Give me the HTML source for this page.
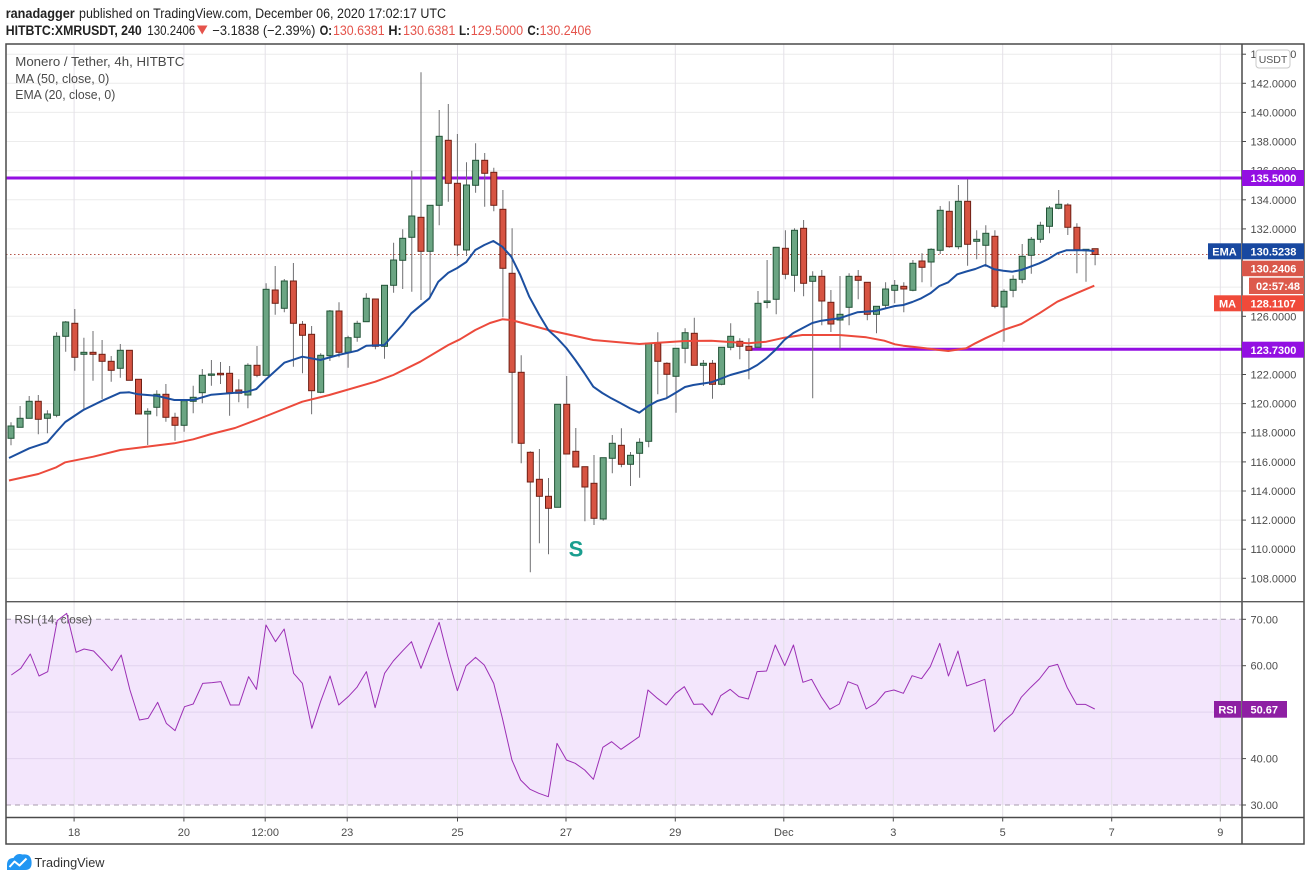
<!DOCTYPE html>
<html><head><meta charset="utf-8"><style>
html,body{margin:0;padding:0;background:#fff;width:1311px;height:881px;overflow:hidden}
svg{display:block}
text{font-family:"Liberation Sans",sans-serif}
</style></head><body>
<svg width="1311" height="881" viewBox="0 0 1311 881" xmlns="http://www.w3.org/2000/svg">
<rect width="1311" height="881" fill="#fff"/>
<!-- header -->
<text x="5.7" y="18" font-size="13.5" font-weight="bold" fill="#222" textLength="69" lengthAdjust="spacingAndGlyphs">ranadagger</text>
<text x="79" y="18" font-size="13.5" fill="#222" textLength="367" lengthAdjust="spacingAndGlyphs">published on TradingView.com, December 06, 2020 17:02:17 UTC</text>
<text x="5.7" y="35" font-size="13.5" font-weight="bold" fill="#222" textLength="136" lengthAdjust="spacingAndGlyphs">HITBTC:XMRUSDT, 240</text>
<text x="147.3" y="35" font-size="13.5" fill="#222" textLength="48" lengthAdjust="spacingAndGlyphs">130.2406</text>
<polygon points="197,25.5 207.5,25.5 202.2,34.5" fill="#e5534b"/>
<text x="212.4" y="35" font-size="13.5" fill="#222" textLength="103" lengthAdjust="spacingAndGlyphs">−3.1838 (−2.39%)</text>
<text x="319.6" y="35" font-size="13.5" font-weight="bold" fill="#222" textLength="12.4" lengthAdjust="spacingAndGlyphs">O:</text>
<text x="333" y="35" font-size="13.5" fill="#e5534b" textLength="51.6" lengthAdjust="spacingAndGlyphs">130.6381</text>
<text x="388.4" y="35" font-size="13.5" font-weight="bold" fill="#222" textLength="13.4" lengthAdjust="spacingAndGlyphs">H:</text>
<text x="403" y="35" font-size="13.5" fill="#e5534b" textLength="52.4" lengthAdjust="spacingAndGlyphs">130.6381</text>
<text x="459" y="35" font-size="13.5" font-weight="bold" fill="#222" textLength="11" lengthAdjust="spacingAndGlyphs">L:</text>
<text x="470.7" y="35" font-size="13.5" fill="#e5534b" textLength="52.5" lengthAdjust="spacingAndGlyphs">129.5000</text>
<text x="527.4" y="35" font-size="13.5" font-weight="bold" fill="#222" textLength="12.2" lengthAdjust="spacingAndGlyphs">C:</text>
<text x="539.6" y="35" font-size="13.5" fill="#e5534b" textLength="51.7" lengthAdjust="spacingAndGlyphs">130.2406</text>

<!-- RSI band -->
<rect x="6" y="619.3" width="1236" height="185.7" fill="#f3e6fc"/>
<g stroke="#e2d3ee" stroke-width="1">
<line x1="6" y1="665.7" x2="1242" y2="665.7"/>
<line x1="6" y1="712.1" x2="1242" y2="712.1"/>
<line x1="6" y1="758.6" x2="1242" y2="758.6"/>
</g>
<!-- main grid horizontal -->
<g stroke="#ececec" stroke-width="1">
<line x1="6" y1="54.2" x2="1242" y2="54.2"/><line x1="6" y1="83.3" x2="1242" y2="83.3"/><line x1="6" y1="112.4" x2="1242" y2="112.4"/><line x1="6" y1="141.5" x2="1242" y2="141.5"/><line x1="6" y1="170.7" x2="1242" y2="170.7"/><line x1="6" y1="199.8" x2="1242" y2="199.8"/><line x1="6" y1="228.9" x2="1242" y2="228.9"/><line x1="6" y1="258" x2="1242" y2="258"/><line x1="6" y1="287.1" x2="1242" y2="287.1"/><line x1="6" y1="316.3" x2="1242" y2="316.3"/><line x1="6" y1="345.4" x2="1242" y2="345.4"/><line x1="6" y1="374.5" x2="1242" y2="374.5"/><line x1="6" y1="403.6" x2="1242" y2="403.6"/><line x1="6" y1="432.7" x2="1242" y2="432.7"/><line x1="6" y1="461.9" x2="1242" y2="461.9"/><line x1="6" y1="491" x2="1242" y2="491"/><line x1="6" y1="520.1" x2="1242" y2="520.1"/><line x1="6" y1="549.2" x2="1242" y2="549.2"/><line x1="6" y1="578.3" x2="1242" y2="578.3"/>
</g>
<!-- vertical grid -->
<g stroke="#e4e1e8" stroke-width="1">
<line x1="74.1" y1="44" x2="74.1" y2="817"/><line x1="183.9" y1="44" x2="183.9" y2="817"/><line x1="265.2" y1="44" x2="265.2" y2="817"/><line x1="347.2" y1="44" x2="347.2" y2="817"/><line x1="457.5" y1="44" x2="457.5" y2="817"/><line x1="566" y1="44" x2="566" y2="817"/><line x1="675.3" y1="44" x2="675.3" y2="817"/><line x1="783.8" y1="44" x2="783.8" y2="817"/><line x1="893.3" y1="44" x2="893.3" y2="817"/><line x1="1002.7" y1="44" x2="1002.7" y2="817"/><line x1="1111.7" y1="44" x2="1111.7" y2="817"/><line x1="1220.3" y1="44" x2="1220.3" y2="817"/>
</g>
<!-- RSI dashed bounds -->
<g stroke="#a89cae" stroke-width="1" stroke-dasharray="5 4">
<line x1="6" y1="619.3" x2="1242" y2="619.3"/>
<line x1="6" y1="805" x2="1242" y2="805"/>
</g>

<!-- legends -->
<text x="15.3" y="66" font-size="13" fill="#4a4a4a" textLength="169" lengthAdjust="spacingAndGlyphs">Monero / Tether, 4h, HITBTC</text>
<text x="15.3" y="83" font-size="13" fill="#4a4a4a" textLength="94" lengthAdjust="spacingAndGlyphs">MA (50, close, 0)</text>
<text x="15.3" y="99" font-size="13" fill="#4a4a4a" textLength="100" lengthAdjust="spacingAndGlyphs">EMA (20, close, 0)</text>
<text x="14.5" y="623.5" font-size="12" fill="#555" textLength="77.5" lengthAdjust="spacingAndGlyphs">RSI (14, close)</text>

<!-- horizontal levels -->
<line x1="6" y1="178" x2="1242" y2="178" stroke="#930fe2" stroke-width="3"/>
<line x1="746" y1="349.3" x2="1242" y2="349.3" stroke="#930fe2" stroke-width="3"/>
<line x1="6" y1="254.5" x2="1242" y2="254.5" stroke="#b5564a" stroke-width="1" stroke-dasharray="1.5 2.5"/>

<!-- wicks -->
<path fill="none" stroke="#6f6f72" stroke-width="1" d="M11 422.3V445.3M20.1 406V427.3M29.2 396V418.3M38.3 395V434.3M47.4 410.3V433.3M56.6 332.3V417.3M65.7 321V351.7M74.8 309V370.7M83.9 337.7V409.3M93 331V380.7M102.1 340V399M111.2 356V381.7M120.3 344V377.7M129.4 350.3V380.3M138.5 379.3V414M147.7 408.3V445M156.8 390.3V416.3M165.9 384V421.7M175 412.7V440.7M184.1 400.7V431.7M193.2 385.7V413.3M202.3 369V403.3M211.4 360V385.7M220.5 362V384M229.6 366V415.7M238.8 379.3V402.3M247.9 363.3V408.3M257 346V377.3M266.1 283.3V375.3M275.2 266V314.7M284.3 279V312.3M293.4 263V366.7M302.5 321V373.3M311.6 326V414.3M320.7 353.3V393.3M329.9 310V361M339 302.3V357.3M348.1 335.7V367.7M357.2 320.7V341.7M366.3 293.3V321.7M375.4 299V349.3M384.5 285.3V358.7M393.6 242.7V292.7M402.7 229.3V289M411.8 170.7V291.7M421 72.3V300M430.1 205.3V297.3M439.2 110V225.3M448.3 104V201.7M457.4 134V256M466.5 162.3V256M475.6 143.3V192.7M484.7 153V206.7M493.8 167.7V211.3M502.9 190V317.3M512.1 228.3V443.3M521.2 355.3V463.3M530.3 451.3V572.3M539.4 449V543.3M548.5 478V554.3M557.6 404.3V507.3M566.7 376V454M575.8 428V467M584.9 466.7V521.3M594 455V525M603.2 457.7V520.7M612.3 435V473.3M621.4 428.3V467.3M630.5 452V486M639.6 438.3V477.7M648.7 343.3V447.3M657.8 332.3V394.3M666.9 362.3V398.3M676 348.3V412.7M685.1 328.3V363.3M694.3 317.7V365.3M703.4 360V386M712.5 360V398.7M721.6 347.3V385.3M730.7 323.3V350.3M739.8 338.3V359.3M748.9 338.3V379.3M758 291V347.3M767.1 260V308.3M776.2 247.3V314.3M785.4 230.3V279.3M794.5 228.3V291.7M803.6 220V296.3M812.7 271.3V398.3M821.8 270V325.3M830.9 290V332M840 276V349.3M849.1 273.3V325.3M858.2 270V299.3M867.3 282.3V320.3M876.5 306.3V333.3M885.6 282.3V309M894.7 280V303.3M903.8 282.3V312.3M912.9 260V291.3M922 253.3V282.3M931.1 248.3V286.7M940.2 206V254M949.3 201.3V247.7M958.4 185V249.3M967.6 179.3V265.7M976.7 230.3V259.3M985.8 225.3V266.7M994.9 230.3V308.3M1004 289.3V341.7M1013.1 275.3V297.3M1022.2 244V283.3M1031.3 237V273.7M1040.4 221.7V242.7M1049.5 206V233.3M1058.7 190V209.3M1067.8 203.3V235M1076.9 223.3V273.3M1086 249.3V281.7M1095.1 248.7V265.3"/>

<!-- green bodies -->
<g fill="#6ba583" stroke="#225437" stroke-width="1">
<rect x="8" y="426" width="6" height="12.3"/><rect x="17.1" y="418.3" width="6" height="9"/><rect x="26.2" y="401.3" width="6" height="17"/><rect x="44.4" y="414" width="6" height="4.3"/><rect x="53.6" y="336.3" width="6" height="79"/><rect x="62.7" y="322" width="6" height="14.3"/><rect x="80.9" y="352.3" width="6" height="2"/><rect x="117.3" y="350.3" width="6" height="18"/><rect x="144.7" y="411.3" width="6" height="2.7"/><rect x="153.8" y="394.3" width="6" height="13"/><rect x="181.1" y="400.7" width="6" height="24.6"/><rect x="190.2" y="397.3" width="6" height="4"/><rect x="199.3" y="375.3" width="6" height="17.4"/><rect x="208.4" y="374" width="6" height="1.3"/><rect x="244.9" y="365.3" width="6" height="29.7"/><rect x="263.1" y="289.3" width="6" height="86"/><rect x="281.3" y="281" width="6" height="27.3"/><rect x="317.7" y="355.3" width="6" height="37"/><rect x="326.9" y="311" width="6" height="44.7"/><rect x="345.1" y="337.7" width="6" height="14.6"/><rect x="354.2" y="323.3" width="6" height="14"/><rect x="363.3" y="298.3" width="6" height="23.4"/><rect x="381.5" y="285.3" width="6" height="61"/><rect x="390.6" y="260" width="6" height="25.3"/><rect x="399.7" y="238.3" width="6" height="22"/><rect x="408.8" y="216" width="6" height="21.3"/><rect x="427.1" y="205.3" width="6" height="46"/><rect x="436.2" y="136.3" width="6" height="69"/><rect x="463.5" y="185" width="6" height="65"/><rect x="472.6" y="160.3" width="6" height="25"/><rect x="554.6" y="404.3" width="6" height="103"/><rect x="600.2" y="457.7" width="6" height="61.3"/><rect x="609.3" y="443.3" width="6" height="15"/><rect x="627.5" y="455.3" width="6" height="9"/><rect x="636.6" y="442.3" width="6" height="11"/><rect x="645.7" y="343.3" width="6" height="98"/><rect x="673" y="348.3" width="6" height="28"/><rect x="682.1" y="332.7" width="6" height="15.6"/><rect x="700.4" y="363.3" width="6" height="2"/><rect x="718.6" y="347.3" width="6" height="37"/><rect x="727.7" y="336.3" width="6" height="11"/><rect x="755" y="303.3" width="6" height="44"/><rect x="764.1" y="301" width="6" height="1.5"/><rect x="773.2" y="247.3" width="6" height="52"/><rect x="791.5" y="230.3" width="6" height="45"/><rect x="809.7" y="276.3" width="6" height="5"/><rect x="837" y="314.3" width="6" height="5.7"/><rect x="846.1" y="276.3" width="6" height="31"/><rect x="873.5" y="306.3" width="6" height="8"/><rect x="882.6" y="289" width="6" height="16.3"/><rect x="891.7" y="285.3" width="6" height="5"/><rect x="909.9" y="263.3" width="6" height="27"/><rect x="928.1" y="249.3" width="6" height="12.7"/><rect x="937.2" y="210.3" width="6" height="40"/><rect x="955.4" y="201.3" width="6" height="45.4"/><rect x="973.7" y="239.3" width="6" height="2"/><rect x="982.8" y="233.3" width="6" height="12"/><rect x="1001" y="291.3" width="6" height="15.7"/><rect x="1010.1" y="279.3" width="6" height="11"/><rect x="1019.2" y="256.3" width="6" height="23"/><rect x="1028.3" y="239.3" width="6" height="16"/><rect x="1037.4" y="225.3" width="6" height="14"/><rect x="1046.5" y="208" width="6" height="18.3"/><rect x="1055.7" y="204.3" width="6" height="4"/><rect x="1083" y="249.3" width="6" height="1.4"/>
</g>
<!-- red bodies -->
<g fill="#d75442" stroke="#6f1f14" stroke-width="1">
<rect x="35.3" y="401.3" width="6" height="18"/><rect x="71.8" y="323.3" width="6" height="34"/><rect x="90" y="352.3" width="6" height="2"/><rect x="99.1" y="354.3" width="6" height="7"/><rect x="108.2" y="361.3" width="6" height="9"/><rect x="126.4" y="350.3" width="6" height="30"/><rect x="135.5" y="379.3" width="6" height="34.7"/><rect x="162.9" y="394.3" width="6" height="23"/><rect x="172" y="417.3" width="6" height="8"/><rect x="217.5" y="373.3" width="6" height="1.5"/><rect x="226.6" y="373.3" width="6" height="19.4"/><rect x="235.8" y="390" width="6" height="3.3"/><rect x="254" y="365.3" width="6" height="10"/><rect x="272.2" y="290" width="6" height="13.3"/><rect x="290.4" y="281" width="6" height="42.3"/><rect x="299.5" y="324.3" width="6" height="11"/><rect x="308.6" y="334.3" width="6" height="56.4"/><rect x="336" y="311" width="6" height="41.3"/><rect x="372.4" y="299" width="6" height="47.3"/><rect x="418" y="217.3" width="6" height="34"/><rect x="445.3" y="140.3" width="6" height="43"/><rect x="454.4" y="183.3" width="6" height="61.7"/><rect x="481.7" y="160.3" width="6" height="13"/><rect x="490.8" y="172.3" width="6" height="33"/><rect x="499.9" y="209.3" width="6" height="59"/><rect x="509.1" y="273.3" width="6" height="99"/><rect x="518.2" y="372.3" width="6" height="71"/><rect x="527.3" y="452.3" width="6" height="29.7"/><rect x="536.4" y="479.3" width="6" height="17"/><rect x="545.5" y="496.3" width="6" height="12"/><rect x="563.7" y="404.3" width="6" height="49.7"/><rect x="572.8" y="451.3" width="6" height="15.7"/><rect x="581.9" y="466.7" width="6" height="20.3"/><rect x="591" y="483.3" width="6" height="35"/><rect x="618.4" y="445.3" width="6" height="19"/><rect x="654.8" y="343.3" width="6" height="18"/><rect x="663.9" y="363.3" width="6" height="11"/><rect x="691.3" y="333.3" width="6" height="32"/><rect x="709.5" y="363.3" width="6" height="21"/><rect x="736.8" y="341.3" width="6" height="5"/><rect x="745.9" y="346.3" width="6" height="4"/><rect x="782.4" y="248.3" width="6" height="26"/><rect x="800.6" y="228.3" width="6" height="55"/><rect x="818.8" y="276.3" width="6" height="24.7"/><rect x="827.9" y="302.3" width="6" height="21.7"/><rect x="855.2" y="276.3" width="6" height="4"/><rect x="864.3" y="282.3" width="6" height="32"/><rect x="900.8" y="286.3" width="6" height="2.7"/><rect x="919" y="261" width="6" height="6.3"/><rect x="946.3" y="211.3" width="6" height="35.4"/><rect x="964.6" y="201.3" width="6" height="43"/><rect x="991.9" y="236.3" width="6" height="70"/><rect x="1064.8" y="205" width="6" height="22.3"/><rect x="1073.9" y="227.3" width="6" height="22.4"/><rect x="1092.1" y="248.7" width="6" height="5.8"/>
</g>

<!-- MA 50 -->
<polyline fill="none" stroke="#ec4a3c" stroke-width="2" stroke-linejoin="round" points="9,480.5 38.3,474 56.3,467.3 65.3,462.3 93.3,456.7 120.3,450 138.3,447.7 174.3,443.3 193.3,439.3 211.3,434 235,428 256.3,420 302.3,401.7 329.3,395 375.3,381.7 393.3,375 420.3,361.7 448.3,345 460,339.3 475.3,330 490,323 502.3,319.3 511.3,320 548.3,330 593.3,340 639.3,344 685,341 711.3,340.7 748.3,343.3 766.3,341.7 784.3,337.7 802.3,335 839.3,335 866.3,337.3 884.3,340.7 895,344.3 903.3,345.7 921.3,347.7 939.3,350 948.3,351 966.3,348.3 975.3,343.3 985.3,338.3 1003.3,330 1021.3,324 1039.3,313.3 1057.3,301.7 1076.3,293.3 1094.3,285.7"/>
<!-- EMA 20 -->
<polyline fill="none" stroke="#1c4fa0" stroke-width="2" stroke-linejoin="round" points="9,458 29.3,448.3 47.3,442.3 56.3,432 65.3,422 83.3,410 102.3,400.7 120.3,392.7 129.3,392.3 138.3,394.3 156.3,395.7 174.3,400 193.3,400 211.3,394.7 229.3,393.3 247.3,391.7 256.3,389 265.3,380 284.3,362.7 302.3,356.7 320.3,360 338.3,355 357.3,350.7 366.3,345.7 384.3,345 402.3,325 411.3,313.3 429.3,298.3 438.3,281.7 448.3,272.7 457.3,268 466.3,262 475.3,250 484.3,245 493.3,241 502.3,246.7 511.3,256.7 520.3,275 529.3,296.7 539.3,315 548.3,330 557.3,338.3 566.3,348 575.3,360 584.3,373 593.3,386.7 602.3,393 611.3,398.3 620.3,403 630.3,408.5 639.3,412.7 648.3,406 657.3,401 666.3,398.3 675.3,393 685,387 693.3,385 711.3,382.3 730.3,375 748.3,370 757.3,365 766.3,358.3 775.3,350 784.3,340 793.3,333 802.3,328.3 812.3,323 821.3,320.7 839.3,318.3 857.3,312.3 875.3,311 895,306 903.3,305 912.3,302 921.3,298.3 930.3,293.3 939.3,286 948.3,282.3 957.3,274.3 966.3,271.5 975.3,269 985.3,265 994.3,269.3 1003.3,270.7 1012.3,271.7 1021.3,270 1030.3,266.7 1039.3,263.3 1048.3,259 1057.3,253.3 1066.3,250.3 1076.3,250.3 1085.3,250.3 1094.3,251"/>

<text x="576" y="556.5" font-size="22" font-weight="bold" fill="#1a9e8f" text-anchor="middle">S</text>

<!-- RSI line -->
<g transform="translate(5,600) scale(0.79083,0.333333)">
<polyline fill="none" stroke="#9c2fb5" stroke-width="1" vector-effect="non-scaling-stroke" stroke-linejoin="round" points="8,225 20,205 32,162 43,228 54,215 66,62 78,40 90,157 100,147 112,153 123,180 135,212 147,165 158,270 170,360 181,355 193,307 204,370 215,392 227,320 238,312 250,250 262,248 273,245 285,315 296,315 308,230 318,268 330,75 342,125 353,87 365,220 376,250 388,385 399,305 411,228 422,315 434,290 445,262 457,215 468,323 480,220 491,183 503,152 514,125 526,205 537,137 549,67 560,170 572,272 583,198 595,172 606,195 618,250 629,355 641,480 652,540 664,568 675,580 687,590 698,430 710,480 721,490 733,510 744,538 756,442 767,425 779,448 790,430 802,410 813,270 825,295 836,315 848,280 859,260 871,313 882,312 894,345 905,287 917,268 928,290 940,297 951,215 963,213 974,135 986,197 997,135 1009,247 1020,238 1032,290 1043,328 1055,312 1066,245 1078,256 1089,327 1101,310 1113,276 1124,270 1136,280 1147,227 1159,236 1170,200 1182,130 1193,228 1205,153 1216,258 1228,248 1239,238 1251,395 1262,365 1274,340 1285,292 1297,262 1308,237 1320,200 1331,193 1343,262 1355,313 1366,313 1378,327"/>
</g>

<!-- axis area backgrounds -->
<rect x="1243" y="45" width="61" height="772" fill="#fff"/>
<rect x="7" y="818" width="1297" height="26" fill="#fff"/>

<!-- frame & axes -->
<rect x="6" y="44" width="1298" height="800" fill="none" stroke="#4a4a4a" stroke-width="1.5"/>
<line x1="1242" y1="44" x2="1242" y2="844" stroke="#4a4a4a" stroke-width="1.5"/>
<line x1="6" y1="817.5" x2="1304" y2="817.5" stroke="#4a4a4a" stroke-width="1.5"/>
<line x1="6" y1="601.7" x2="1304" y2="601.7" stroke="#5a5a5a" stroke-width="1.3"/>

<!-- price axis ticks & labels -->
<g stroke="#4a4a4a" stroke-width="1">
<line x1="1242" y1="54.2" x2="1246" y2="54.2"/><line x1="1242" y1="83.3" x2="1246" y2="83.3"/><line x1="1242" y1="112.4" x2="1246" y2="112.4"/><line x1="1242" y1="141.5" x2="1246" y2="141.5"/><line x1="1242" y1="170.7" x2="1246" y2="170.7"/><line x1="1242" y1="199.8" x2="1246" y2="199.8"/><line x1="1242" y1="228.9" x2="1246" y2="228.9"/><line x1="1242" y1="316.3" x2="1246" y2="316.3"/><line x1="1242" y1="374.5" x2="1246" y2="374.5"/><line x1="1242" y1="403.6" x2="1246" y2="403.6"/><line x1="1242" y1="432.7" x2="1246" y2="432.7"/><line x1="1242" y1="461.9" x2="1246" y2="461.9"/><line x1="1242" y1="491" x2="1246" y2="491"/><line x1="1242" y1="520.1" x2="1246" y2="520.1"/><line x1="1242" y1="549.2" x2="1246" y2="549.2"/><line x1="1242" y1="578.3" x2="1246" y2="578.3"/>
<line x1="1242" y1="619.3" x2="1246" y2="619.3"/><line x1="1242" y1="665.7" x2="1246" y2="665.7"/><line x1="1242" y1="758.6" x2="1246" y2="758.6"/><line x1="1242" y1="805" x2="1246" y2="805"/>
<line x1="74.1" y1="817.5" x2="74.1" y2="821.5"/><line x1="183.9" y1="817.5" x2="183.9" y2="821.5"/><line x1="265.2" y1="817.5" x2="265.2" y2="821.5"/><line x1="347.2" y1="817.5" x2="347.2" y2="821.5"/><line x1="457.5" y1="817.5" x2="457.5" y2="821.5"/><line x1="566" y1="817.5" x2="566" y2="821.5"/><line x1="675.3" y1="817.5" x2="675.3" y2="821.5"/><line x1="783.8" y1="817.5" x2="783.8" y2="821.5"/><line x1="893.3" y1="817.5" x2="893.3" y2="821.5"/><line x1="1002.7" y1="817.5" x2="1002.7" y2="821.5"/><line x1="1111.7" y1="817.5" x2="1111.7" y2="821.5"/><line x1="1220.3" y1="817.5" x2="1220.3" y2="821.5"/>
</g>
<g font-size="11" fill="#4c4c4c">
<text x="1250.5" y="58.2">144.0000</text>
<text x="1250.5" y="87.3">142.0000</text>
<text x="1250.5" y="116.4">140.0000</text>
<text x="1250.5" y="145.5">138.0000</text>
<text x="1250.5" y="174.7">136.0000</text>
<text x="1250.5" y="203.8">134.0000</text>
<text x="1250.5" y="232.9">132.0000</text>
<text x="1250.5" y="320.3">126.0000</text>
<text x="1250.5" y="349.4">124.0000</text>
<text x="1250.5" y="378.5">122.0000</text>
<text x="1250.5" y="407.6">120.0000</text>
<text x="1250.5" y="436.7">118.0000</text>
<text x="1250.5" y="465.9">116.0000</text>
<text x="1250.5" y="495">114.0000</text>
<text x="1250.5" y="524.1">112.0000</text>
<text x="1250.5" y="553.2">110.0000</text>
<text x="1250.5" y="582.3">108.0000</text>
<text x="1250.5" y="623.3">70.00</text>
<text x="1250.5" y="669.7">60.00</text>
<text x="1250.5" y="762.6">40.00</text>
<text x="1250.5" y="809">30.00</text>
</g>
<g font-size="11" fill="#4c4c4c" text-anchor="middle">
<text x="74.1" y="836">18</text><text x="183.9" y="836">20</text><text x="265.2" y="836">12:00</text><text x="347.2" y="836">23</text><text x="457.5" y="836">25</text><text x="566" y="836">27</text><text x="675.3" y="836">29</text><text x="783.8" y="836">Dec</text><text x="893.3" y="836">3</text><text x="1002.7" y="836">5</text><text x="1111.7" y="836">7</text><text x="1220.3" y="836">9</text>
</g>

<!-- USDT box -->
<rect x="1256" y="50" width="34" height="18" rx="3" fill="#fff" stroke="#c8c8c8" stroke-width="1"/>
<text x="1273" y="63" font-size="10.5" fill="#555" text-anchor="middle">USDT</text>

<!-- price labels -->
<g font-size="11" font-weight="bold" fill="#fff">
<rect x="1242" y="170" width="62" height="16" fill="#930fe2"/>
<text x="1250.5" y="182">135.5000</text>
<rect x="1208" y="243.3" width="33" height="16" fill="#1848a0"/>
<text x="1224.5" y="255.5" text-anchor="middle">EMA</text>
<rect x="1242" y="243.3" width="62" height="16" fill="#1848a0"/>
<text x="1250.5" y="255.5">130.5238</text>
<rect x="1242" y="260.7" width="62" height="15.5" fill="#d9574a"/>
<text x="1250.5" y="272.5">130.2406</text>
<rect x="1249" y="277.7" width="55" height="16.3" fill="#dd5a4c"/>
<text x="1256" y="290">02:57:48</text>
<rect x="1214" y="295.3" width="27" height="16" fill="#f04a3a"/>
<text x="1227.5" y="307.5" text-anchor="middle">MA</text>
<rect x="1242" y="295.3" width="62" height="16" fill="#f04a3a"/>
<text x="1250.5" y="307.5">128.1107</text>
<rect x="1242" y="341.7" width="62" height="16" fill="#930fe2"/>
<text x="1250.5" y="353.8">123.7300</text>
<rect x="1214" y="701" width="27" height="16.7" fill="#8e1fa3"/>
<text x="1227.5" y="713.5" text-anchor="middle">RSI</text>
<rect x="1242" y="701" width="45" height="16.7" fill="#8e1fa3"/>
<text x="1250.5" y="713.5">50.67</text>
</g>

<!-- footer logo -->
<path d="M7 870 L7 865 Q7 858 13.5 858 Q16.5 852.5 22.5 854.5 Q30.5 853.5 31.5 861 Q32.5 870 25 870 Z" fill="#2196f3"/>
<polyline points="9.5,867 14.5,861.5 19.5,865.5 26.5,858.5" fill="none" stroke="#fff" stroke-width="2" stroke-linejoin="round"/>
<text x="34.5" y="867" font-size="13" fill="#333" textLength="70" lengthAdjust="spacingAndGlyphs">TradingView</text>
</svg>
</body></html>
